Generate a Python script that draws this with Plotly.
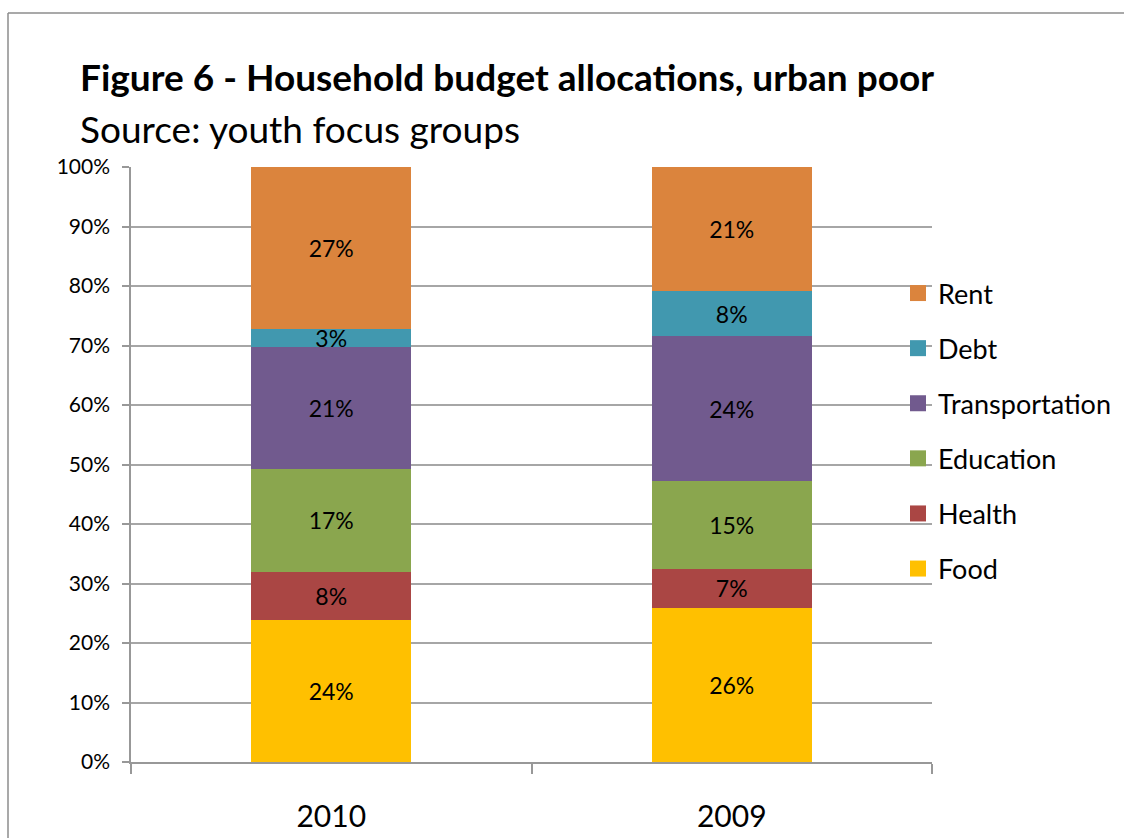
import plotly.graph_objects as go

years = ["2010", "2009"]
series_names = ["Food", "Health", "Education", "Transportation", "Debt", "Rent"]
food = [23.9, 25.9]
health = [8.1, 6.6]
education = [17.2, 14.7]
transportation = [20.6, 24.4]
debt = [2.9, 7.5]
rent = [27.3, 20.9]
y_ticks = [0, 10, 20, 30, 40, 50, 60, 70, 80, 90, 100]
y_tick_labels = [f"{v}%" for v in y_ticks]

colors = ["#FFC000", "#AA4644", "#8AA64E", "#715A8E", "#4198AF", "#DB843D"]
values = [food, health, education, transportation, debt, rent]

W, H = 1124, 838
L, R, T, B = 131, 192, 167, 76
FONT = "Lato"

pw = W - L - R
ph = H - T - B
def fx(p):  # screen x -> paper
    return (p - L) / pw
def fy(p):  # screen y -> paper
    return (H - B - p) / ph

fig = go.Figure()
for name, vals, col in zip(series_names, values, colors):
    fig.add_trace(go.Bar(
        x=years, y=vals, name=name, marker=dict(color=col, line=dict(width=0)),
        texttemplate="%{y:.0f}%", textposition="inside",
        insidetextanchor="middle", textangle=0,
        textfont=dict(family=FONT, size=23, color="black"),
        showlegend=False, constraintext="none",
    ))

# legend entries (square markers), ranked so Rent is on top
n = len(series_names)
for i, (name, col) in enumerate(zip(series_names, colors)):
    fig.add_trace(go.Scatter(
        x=[None], y=[None], mode="markers", name=name,
        marker=dict(symbol="square", size=17, color=col),
        legendgroup=name, legendrank=n - i, showlegend=True,
    ))

fig.update_layout(
    width=W, height=H, barmode="stack", bargap=0.6,
    margin=dict(l=L, r=R, t=T, b=B, autoexpand=False),
    paper_bgcolor="white", plot_bgcolor="white",
    font=dict(family=FONT, color="black"),
    showlegend=True,
    legend=dict(x=fx(898), y=fy(269), xanchor="left", yanchor="top",
                traceorder="grouped", tracegroupgap=17,
                font=dict(family=FONT, size=27, color="black"),
                bgcolor="rgba(0,0,0,0)", itemwidth=30, itemsizing="trace"),
    xaxis=dict(type="category", showgrid=False, showline=True, linecolor="#989898",
               linewidth=1.5, ticks="outside", tickson="boundaries", ticklen=10,
               tickcolor="#989898", tickwidth=1.5, automargin=False,
               tickfont=dict(family=FONT, size=30, color="black"), ticklabelstandoff=27),
    yaxis=dict(range=[0, 100], tickvals=y_ticks, ticktext=y_tick_labels,
               showgrid=True, gridcolor="#a6a6a6", gridwidth=1.5,
               showline=True, linecolor="#989898", linewidth=1.5,
               ticks="outside", ticklen=7, tickcolor="#989898", tickwidth=1.5,
               automargin=False,
               tickfont=dict(family=FONT, size=21, color="black"), ticklabelstandoff=8,
               zeroline=False),
    annotations=[
        dict(text="<b>Figure 6 - Household budget allocations, urban poor</b>",
             xref="paper", yref="paper", x=fx(78), y=fy(52), xanchor="left", yanchor="top",
             showarrow=False, font=dict(family=FONT, size=37, color="black")),
        dict(text="Source: youth focus groups",
             xref="paper", yref="paper", x=fx(78), y=fy(104), xanchor="left", yanchor="top",
             showarrow=False, font=dict(family=FONT, size=37, color="black")),
    ],
    shapes=[
        dict(type="line", xref="paper", yref="paper", x0=fx(8), x1=fx(1124),
             y0=fy(13), y1=fy(13), line=dict(color="#8c8c8c", width=1.5)),
        dict(type="line", xref="paper", yref="paper", x0=fx(8), x1=fx(8),
             y0=fy(13), y1=fy(838), line=dict(color="#8c8c8c", width=1.5)),
    ],
)

fig.write_html("out.html", config={"displayModeBar": False},
               post_script="document.body.style.margin='0';document.body.style.padding='0';document.body.style.overflow='hidden';")
